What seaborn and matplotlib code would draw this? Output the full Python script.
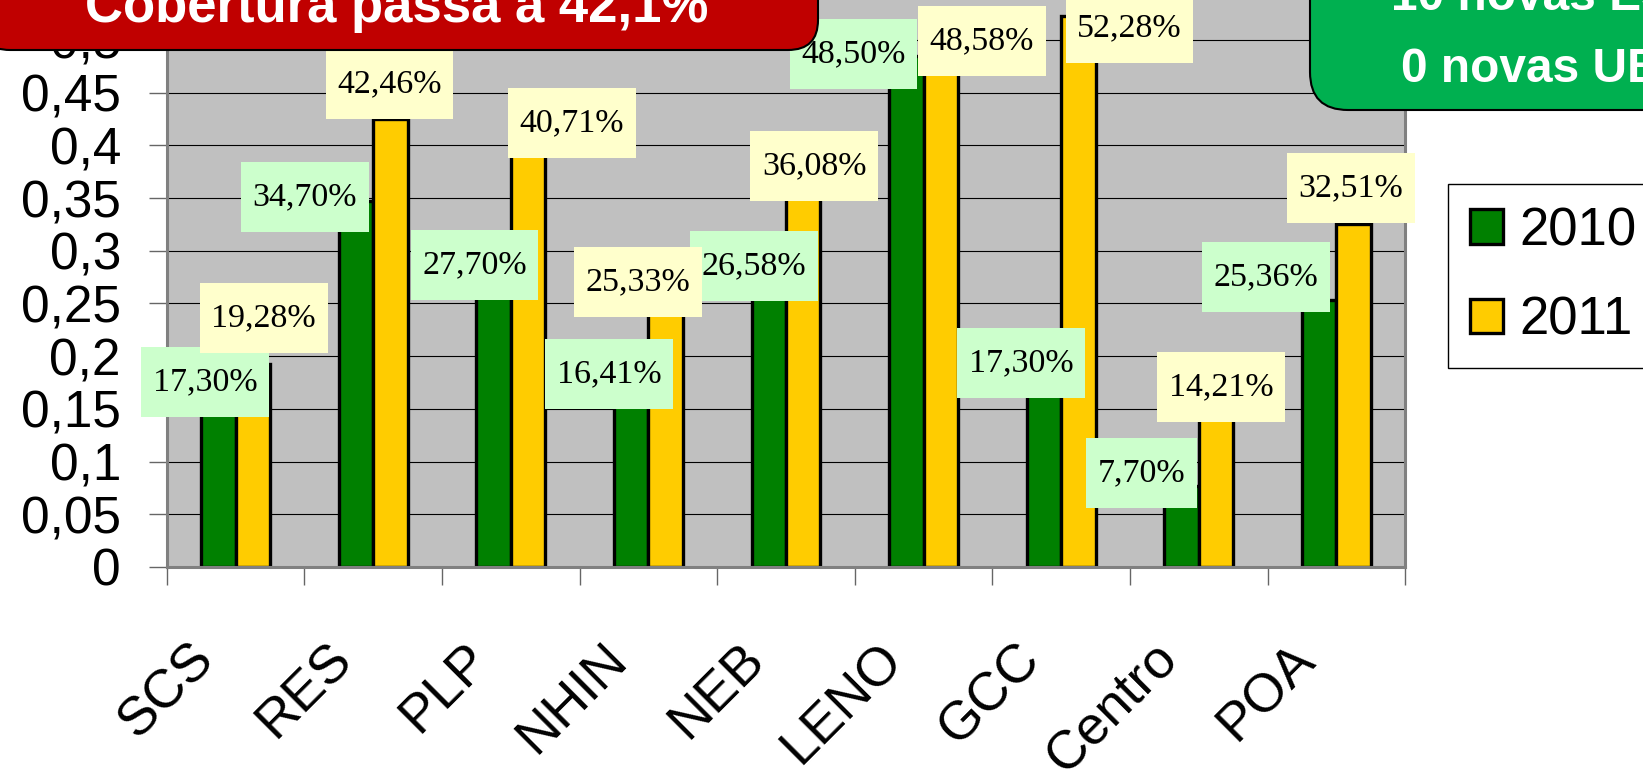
import numpy as np
import pandas as pd
import matplotlib
matplotlib.use("Agg")
import matplotlib.pyplot as plt
import matplotlib.transforms as mtrans
import seaborn as sns
from matplotlib.path import Path
from matplotlib.patches import FancyBboxPatch, Patch
from matplotlib.ticker import MultipleLocator, FuncFormatter

# dados
regioes = ["SCS", "RES", "PLP", "NHIN", "NEB", "LENO", "GCC", "Centro", "POA"]
cob_2010 = [0.1730, 0.3470, 0.2770, 0.1641, 0.2658, 0.4850, 0.1730, 0.0770, 0.2536]
cob_2011 = [0.1928, 0.4246, 0.4071, 0.2533, 0.3608, 0.4858, 0.5228, 0.1421, 0.3251]
anos = ["2010", "2011"]

titulo = "Cobertura passa a 42,1%"
caixa_verde = ["10 novas ESF", "0 novas UBS"]

cores = {"2010": "#008000", "2011": "#FFCC00"}
cores_rotulo = {"2010": "#CCFFCC", "2011": "#FFFFCC"}

# deslocamento dos rotulos de dados (pixels, como foram arrastados no slide)
nudge_x = {"2010": [-13, -51, -19, -22, -15, -53, -23, -40, -53],
           "2011": [11, -1, 44, -28, 11, 41, 51, 5, -3]}
nudge_y = {"2010": [3, 4, 10, 20, 21, 2, 22, 13, 23],
           "2011": [46, 35, 15, 18, 21, 14, -12, 30, 36]}

df = pd.DataFrame({
    "regiao": regioes * 2,
    "ano": ["2010"] * len(regioes) + ["2011"] * len(regioes),
    "cobertura": cob_2010 + cob_2011,
})


def caixa_rotulo(x0, y0, width, height, mutation_size):
    # caixa retangular com mais folga na vertical (como no Excel)
    px, py = 0.34 * mutation_size, 0.58 * mutation_size
    x1, y1 = x0 + width + px, y0 + height + py
    x0, y0 = x0 - px, y0 - py
    return Path([(x0, y0), (x1, y0), (x1, y1), (x0, y1), (x0, y0)], closed=True)


sns.set_style("white")
plt.rcParams["font.family"] = ["Liberation Sans", "DejaVu Sans"]
plt.rcParams["text.color"] = "black"
plt.rcParams["xtick.labelcolor"] = "black"
plt.rcParams["ytick.labelcolor"] = "black"

W, H = 1643, 769
fig = plt.figure(figsize=(W / 100, H / 100), dpi=100)
ax = fig.add_axes([0.1015, 0.2627, 0.7538, 0.8224])

sns.barplot(data=df, x="regiao", y="cobertura", hue="ano", palette=cores,
            width=0.5, saturation=1, edgecolor="black", linewidth=2.4,
            errorbar=None, legend=False, ax=ax)

ax.set_facecolor("#C0C0C0")
ax.set_xlim(-0.5, len(regioes) - 0.5)
ax.set_ylim(0, 0.6)
ax.set_xlabel("")
ax.set_ylabel("")

# eixo y no estilo Excel, virgula decimal
ax.yaxis.set_major_locator(MultipleLocator(0.05))
ax.yaxis.set_major_formatter(FuncFormatter(lambda v, p: f"{v:g}".replace(".", ",")))
ax.grid(axis="y", color="black", linewidth=0.8)
ax.set_axisbelow(True)
for s in ax.spines.values():
    s.set_visible(True)
    s.set_color("#808080")
    s.set_linewidth(2.2)
ax.tick_params(axis="y", left=True, length=13, width=1, color="#666666",
               pad=20, labelsize=37, labelcolor="black")

# eixo x: marcas entre categorias, rotulos girados
ax.set_xticks(range(len(regioes)))
ax.set_xticks(np.arange(-0.5, len(regioes), 1), minor=True)
ax.set_xticklabels(regioes, rotation=45, ha="right", va="top",
                   rotation_mode="anchor", fontsize=39, color="black")
ax.tick_params(axis="x", which="major", length=0, pad=48)
ax.tick_params(axis="x", which="minor", bottom=True, length=13, width=1,
               color="#666666")
desloc = mtrans.ScaledTranslation(-0.47, 0, fig.dpi_scale_trans)
for lab in ax.get_xticklabels():
    lab.set_transform(lab.get_transform() + desloc)

# rotulos de dados
for cont, ano, z in zip(ax.containers, anos, [5, 6]):
    for bar, dx, dy in zip(cont, nudge_x[ano], nudge_y[ano]):
        x = bar.get_x() + bar.get_width() / 2
        h = bar.get_height()
        txt = f"{h * 100:.2f}".replace(".", ",") + "%"
        ax.annotate(txt, xy=(x, h), xytext=(dx, dy), textcoords="offset pixels",
                    ha="center", va="center", fontsize=24.5, color="black",
                    family="Liberation Serif",
                    bbox=dict(boxstyle=caixa_rotulo, fc=cores_rotulo[ano], ec="none"),
                    zorder=z, annotation_clip=False)

# legenda
handles = [Patch(facecolor=cores[a], edgecolor="black", linewidth=2.4, label=a) for a in anos]
leg = fig.legend(handles=handles, loc="upper left",
                 bbox_to_anchor=(1448 / W, 1 - 184 / H), frameon=True, fancybox=False,
                 edgecolor="black", framealpha=1, fontsize=38, labelcolor="black",
                 handlelength=0.62, handleheight=0.62, handletextpad=0.32,
                 labelspacing=0.75, borderpad=0.42, borderaxespad=0)
leg.get_frame().set_linewidth(1)

# caixas de destaque do slide
ident = mtrans.IdentityTransform()
caixa_r = FancyBboxPatch((-20, H - 50), 838, 200, boxstyle="round,pad=0,rounding_size=30",
                         transform=ident, fc="#C00000", ec="black", lw=1.5, zorder=10)
fig.add_artist(caixa_r)
fig.text(397 / W, 1 - 22 / H, titulo, ha="center", va="baseline", fontsize=38,
         weight="bold", color="white", zorder=11)

caixa_v = FancyBboxPatch((1310, H - 110), 500, 300, boxstyle="round,pad=0,rounding_size=38",
                         transform=ident, fc="#00B050", ec="black", lw=1.5, zorder=10)
fig.add_artist(caixa_v)
for linha, base in zip(caixa_verde, [10, 82]):
    fig.text(1547 / W, 1 - base / H, linha, ha="center", va="baseline", fontsize=34.5,
             weight="bold", color="white", zorder=11)

fig.savefig("out.png", dpi=100)
